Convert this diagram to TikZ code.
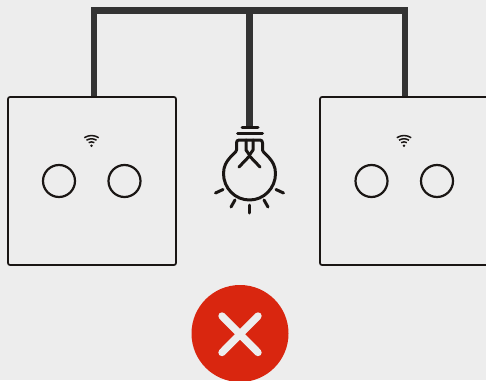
\documentclass[tikz,border=0pt]{standalone}
\usetikzlibrary{calc}
\definecolor{bgc}{HTML}{EDEDED}
\definecolor{wirec}{HTML}{333333}
\definecolor{inkc}{HTML}{1A1614}
\definecolor{redc}{HTML}{D9260F}
\tikzset{
  panel/.style={draw=inkc,line width=1.7pt,rounded corners=2pt,minimum width=168pt,minimum height=168pt,inner sep=0pt,outer sep=0pt},
  touch/.style={circle,draw=inkc,line width=2.2pt,minimum size=32pt,inner sep=0pt},
  wire/.style={draw=wirec,line width=6.4pt,line join=miter},
  bulbline/.style={draw=inkc,line width=3pt,line cap=round,line join=round},
  wifiarc/.style={draw=inkc,line width=1.5pt},
}
\newcommand{\wifimark}[2]{%
  \fill[inkc] (#1,#2+4.8) circle (1.4pt);
  \draw[wifiarc] (#1-2.8,#2+1.7) .. controls (#1-1,#2+0.5) and (#1+1,#2+0.5) .. (#1+2.8,#2+1.7);
  \draw[wifiarc] (#1-5,#2-0.8) .. controls (#1-1.8,#2-2.7) and (#1+1.8,#2-2.7) .. (#1+5,#2-0.8);
  \draw[wifiarc] (#1-7.2,#2-3.3) .. controls (#1-2.6,#2-6.2) and (#1+2.6,#2-6.2) .. (#1+7.2,#2-3.3);
}
\begin{document}
\begin{tikzpicture}[x=1pt,y=-1pt]
\useasboundingbox (0,0) rectangle (486,380);
\clip (0,0) rectangle (486,380);
\fill[bgc] (0,0) rectangle (486,380);
% wires
\coordinate (wa) at (94,98);
\coordinate (wb) at (405,98);
\coordinate (wc) at (249.5,10.5);
\coordinate (wd) at (249.5,127);
\draw[wire] (wa) |- (wc) -| (wb);
\draw[wire] (wc) -- (wd);
% switches
\node[panel] (swa) at (92,181) {};
\node[panel] (swb) at (404,181) {};
\node[touch] (ba) at (59,181) {};
\node[touch] (bb) at (124.5,181) {};
\node[touch] (bc) at (371.5,181) {};
\node[touch] (bd) at (437,181) {};
\wifimark{91.5}{141}
\wifimark{404}{141}
% bulb
\draw[bulbline] (242,127) -- (258,127);
\draw[bulbline] (237.5,133.5) -- (262.5,133.5);
\draw[bulbline] (236.5,150) -- (236.5,143) .. controls (236.5,141) and (237.5,140) .. (239,140)
  -- (260,140) .. controls (261.5,140) and (262.5,141) .. (262.5,143) -- (262.5,150)
  .. controls (263,154) and (275.5,159) .. (275.5,173.5)
  .. controls (275.5,188) and (264,200) .. (249.5,200)
  .. controls (235,200) and (223.5,188) .. (223.5,173.5)
  .. controls (223.5,159) and (236,154) .. (236.5,150);
\draw[bulbline] (246,140) -- (246,150) -- (249.5,155);
\draw[bulbline] (253,140) -- (253,150) -- (249.5,155);
\draw[bulbline] (239,167) -- (249.5,156) -- (260,167);
\draw[bulbline] (215.5,193) -- (223,189.5);
\draw[bulbline] (231,207) -- (235,200);
\draw[bulbline] (249.5,213) -- (249.5,205);
\draw[bulbline] (268,207) -- (264,200);
\draw[bulbline] (283.5,193) -- (276,189.5);
% cross
\node[circle,fill=redc,minimum size=97pt,inner sep=0pt] (no) at (240,333.5) {};
\draw[draw=bgc,line width=7.4pt,line cap=round] (222,316) -- (258,352.5);
\draw[draw=bgc,line width=7.4pt,line cap=round] (258,316) -- (222,352.5);
\end{tikzpicture}
\end{document}
